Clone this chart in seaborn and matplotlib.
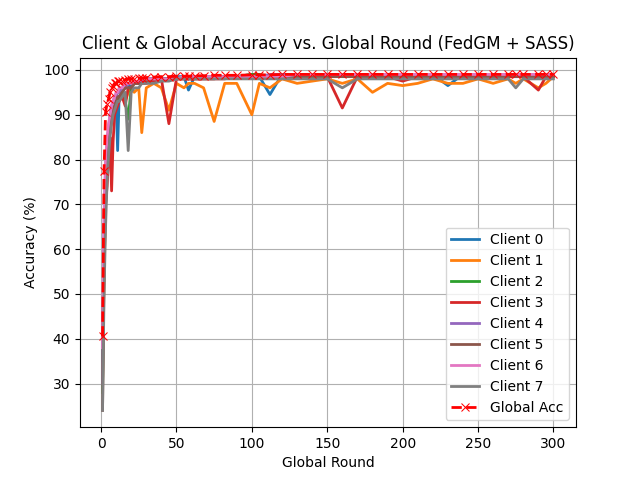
import matplotlib
matplotlib.use("Agg")
import matplotlib.pyplot as plt
import seaborn as sns
import pandas as pd

rounds = [1,2,3,4,5,6,7,8,9,10,11,12,
          14,16,18,20,22,25,27,30,35,40,
          45,50,55,58,62,68,75,82,90,100,
          105,112,120,130,140,150,160,170,180,190,
          200,210,220,230,240,250,260,270,275,280,
          290,295,300]

client0 = [35,62,75,80,85,88,90,89,92,93,82,94, 95,96,96,97,97,97.5,97.5,98,98,98, 98,98.5,98.5,95.5,98.5,98.5,98.5,98.5,98.5,99, 98.5,94.5,99,99,98.5,99,99,99,99,99, 98.5,99,99,96.5,99,99,99,99,99,99, 99,99,99]
client1 = [30,55,70,78,84,87,88,90,91,92,93,94, 95,93,95,96,95,96,86,96,97,96, 91,97,96,97,97,96,88.5,97,97,90, 97,96,98,97,97.5,98,97,98,95,97, 96.5,97,98,97,97,98,97,98,97,98, 96,97,98.5]
client2 = [28,58,72,80,86,88,89,90,91,92,93,94, 95,93,89,96,97,97,97.5,98,98,98, 98,98,98.5,98.5,98.5,98.5,98.5,98.5,98.5,99, 99,98.5,99,99,99,99,99,99,99,99, 99,99,99,99,99,99,99,99,99,99, 99,99,99]
client3 = [40,60,70,74,80,85,73,84,90,91,92,93, 94,92,96,96,97,97,97,97,97.5,98, 88,98,98,98,98,98,98,98,98.5,98.5, 98.5,98.5,98.5,98.5,98.5,98.5,91.5,98.5,98.5,98.5, 97.5,98.5,98.5,98.5,98.5,98.5,98.5,98.5,98.5,98.5, 95.5,98.5,98.5]
client4 = [30,65,78,83,87,90,92,93,94,94,95,95, 96,96,97,97,97,97.5,97.5,98,98,98, 98,98,98.5,98.5,98.5,98.5,98.5,98.5,98.5,98.5, 98.5,99,99,99,99,99,99,99,99,99, 99,99,99,99,99,99,99,99,99,99, 99,99,99]
client5 = [24,55,70,78,84,88,90,91,92,93,94,94, 95,96,96,96,97,97,97,97.5,98,98, 98,98,98,98,98,98,98,98.5,98.5,98.5, 98.5,98.5,98.5,98.5,98.5,98.5,98.5,98.5,98.5,98.5, 98.5,98.5,98.5,98.5,98.5,98.5,98.5,98.5,98.5,98.5, 98.5,98.5,98.5]
client6 = [38,68,80,85,88,90,92,93,94,95,95,96, 96,97,97,97,97.5,97.5,98,98,98,98, 98,98,98.5,98.5,98.5,98.5,98.5,98.5,98.5,98.5, 98.5,98.5,98.5,99,99,99,99,99,99,99, 99,99,99,99,99,99,99,99,99,99, 99,99,99]
client7 = [24,50,65,75,81,85,88,90,91,92,93,93, 94,95,82,95,96,96,97,97,97,97.5, 97.5,98,98,98,98,98,98,98,98,98, 98,98,98,98,98,98,96,98,98,98, 98,98,98,98,98,98,98,98,96,98, 98,98,98]
global_acc = [40.5,77.5,90.5,92.5,93.5,95,96,96.5,97,97,97.5,97.5, 97.5,97.8,98,98,98,98.2,98.2,98.3,98.4,98.5, 98.5,98.6,98.6,98.6,98.7,98.7,98.8,98.8,98.8,98.9, 98.9,98.9,99,99,99,99,99,99,99,99, 99,99,99,99,99,99,99,99,99,99, 99,99,99]

clients = [client0, client1, client2, client3, client4, client5, client6, client7]
rows = []
for i, vals in enumerate(clients):
    for r, v in zip(rounds, vals):
        rows.append({"Global Round": r, "Accuracy": v, "Client": f"Client {i}"})
df = pd.DataFrame(rows)

fig, ax = plt.subplots(figsize=(6.4, 4.8), dpi=100)
sns.lineplot(data=df, x="Global Round", y="Accuracy", hue="Client",
             palette="tab10", linewidth=2, ax=ax)
sns.lineplot(x=rounds, y=global_acc, color="red", linestyle="--", marker="x",
             markeredgecolor="red", markersize=6, linewidth=2, label="Global Acc", ax=ax)
ax.grid(True)
ax.set_title("Client & Global Accuracy vs. Global Round (FedGM + SASS)")
ax.set_xlabel("Global Round")
ax.set_ylabel("Accuracy (%)")
ax.set_xticks([0, 50, 100, 150, 200, 250, 300])
ax.legend(loc="lower right")
fig.savefig("out.png", dpi=100)
